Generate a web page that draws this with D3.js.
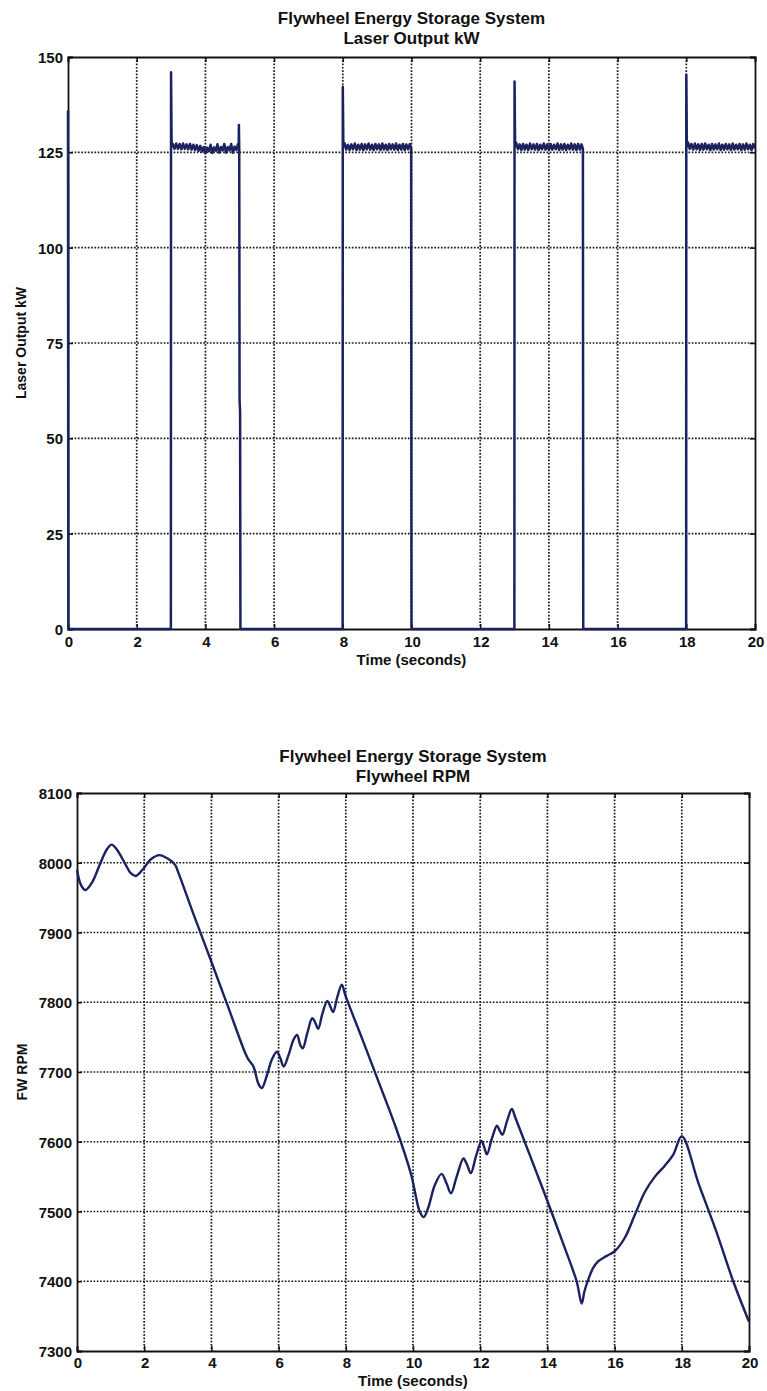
<!DOCTYPE html>
<html><head><meta charset="utf-8">
<script src="https://cdn.jsdelivr.net/npm/d3@7"></script>
<style>
body{margin:0;background:#fff}
svg{display:block;background:#fff}
text{font-family:"Liberation Sans",Arial,sans-serif;font-weight:bold;fill:#111}
</style>
</head><body>
<svg id="c" width="767" height="1391"></svg>
<script>
// ---------------- DATA ----------------
const chartTitle = "Flywheel Energy Storage System";
const laserSubtitle = "Laser Output kW";
const rpmSubtitle = "Flywheel RPM";
const xLabel = "Time (seconds)";
const laserYLabel = "Laser Output kW";
const rpmYLabel = "FW RPM";

const xTicks = [0, 2, 4, 6, 8, 10, 12, 14, 16, 18, 20];
const laserYTicks = [0, 25, 50, 75, 100, 125, 150];
const rpmYTicks = [7300, 7400, 7500, 7600, 7700, 7800, 7900, 8000, 8100];

// Laser output: initial transient and idle period
const laserStart = [[0, 136], [0.01, 0], [2.995, 0]];
// leading spike of each pulse
const pulseHeads = [
  [[3.0, 146], [3.015, 128], [3.03, 126.6]],
  [[8.0, 142.2], [8.015, 127.8], [8.03, 126.6]],
  [[13.0, 143.6], [13.015, 127.8], [13.03, 126.6]],
  [[18.0, 145.3], [18.015, 127.8], [18.03, 126.6]]
];
// plateau ripple sampled every rippleStep seconds starting at rippleStarts
const rippleStarts = [3.05, 8.05, 13.05, 18.05];
const rippleStep = 0.05;
const pulseRipples = [
  [127.2,125.9,127.3,125.9,127.2,125.8,127.3,125.9,127.1,125.8,
   127.2,125.7,127.0,125.6,126.9,125.4,126.7,125.2,126.4,124.8,
   126.2,125.3,127.0,124.8,126.3,125.4,127.1,124.9,126.4,125.5,
   127.2,124.9,126.4,125.5,127.2,124.9,126.5,125.6,127.2],
  [127.4,125.7,127.0,125.6,127.1,125.8,127.3,125.6,127.0,125.7,
   127.2,125.6,127.1,125.8,127.3,125.7,127.0,125.6,127.2,125.8,
   127.1,125.6,127.3,125.7,127.0,125.6,127.2,125.8,127.1,125.7,
   127.3,125.6,127.0,125.7,127.2,125.6,127.1,125.8,127.2],
  [127.5,125.8,127.1,125.6,127.2,125.7,127.0,125.6,127.3,125.8,
   127.1,125.7,127.2,125.6,127.0,125.8,127.3,125.7,127.1,125.6,
   127.2,125.7,127.0,125.8,127.3,125.6,127.1,125.7,127.2,125.6,
   127.0,125.8,127.3,125.7,127.1,125.6,127.2,125.7,127.1],
  [127.6,125.9,127.2,125.7,127.3,125.8,127.1,125.6,127.2,125.7,
   127.3,125.8,127.0,125.6,127.2,125.7,127.1,125.8,127.3,125.6,
   127.0,125.7,127.2,125.8,127.1,125.6,127.3,125.7,127.0,125.8,
   127.2,125.6,127.1,125.7,127.3,125.8,127.0,125.6,127.2]
];
// trailing edge of each pulse and following idle period
const pulseTails = [
  [[4.97, 126], [4.975, 132.2], [4.985, 126], [4.995, 60], [5.01, 57], [5.02, 0], [7.995, 0]],
  [[9.99, 126], [10.0, 0], [12.995, 0]],
  [[14.99, 126], [15.0, 0], [17.995, 0]],
  [[20.0, 126]]
];

// Flywheel RPM
const rpmTime = [0,0.12,0.25,0.45,0.7,0.9,1.03,1.2,1.45,1.6,1.75,1.95,2.2,2.45,2.7,2.92,3.0,3.5,4.0,4.5,5.0,5.1,5.25,5.4,5.5,5.65,5.8,5.95,6.05,6.15,6.3,6.45,6.55,6.65,6.72,6.85,7.0,7.08,7.18,7.3,7.45,7.53,7.62,7.75,7.88,8.0,8.5,9.0,9.5,9.95,10.05,10.2,10.32,10.45,10.65,10.85,11.0,11.13,11.3,11.5,11.6,11.72,11.88,12.04,12.12,12.2,12.35,12.5,12.58,12.66,12.8,12.94,13.05,13.5,14.0,14.5,14.87,15.02,15.1,15.22,15.35,15.5,15.75,16.0,16.3,16.6,16.9,17.2,17.5,17.75,18.0,18.5,19.0,19.53,20.0];
const rpmValue = [7990,7968,7961,7972,8000,8020,8026,8018,7997,7985,7981,7990,8005,8011,8006,7997,7988,7922,7858,7793,7728,7718,7708,7683,7677,7695,7718,7729,7720,7708,7725,7747,7753,7738,7734,7755,7777,7772,7762,7783,7802,7795,7786,7808,7825,7808,7746,7683,7619,7552,7530,7500,7492,7505,7538,7554,7540,7526,7550,7576,7568,7555,7580,7601,7592,7582,7605,7623,7616,7610,7630,7647,7634,7578,7515,7450,7400,7368,7385,7403,7418,7428,7436,7443,7462,7495,7528,7550,7566,7582,7608,7540,7475,7400,7342];

// ---------------- BUILD ----------------
const laserSeries = [...laserStart];
pulseHeads.forEach((head, i) => {
  head.forEach(p => laserSeries.push(p));
  pulseRipples[i].forEach((v, j) => laserSeries.push([rippleStarts[i] + j * rippleStep, v]));
  pulseTails[i].forEach(p => laserSeries.push(p));
});
const rpmSeries = rpmTime.map((t, i) => [t, rpmValue[i]]);

const svg = d3.select("#c");
const lineColor = "#1a2260";

function panel(cfg) {
  const x = d3.scaleLinear().domain([0, 20]).range([cfg.left, cfg.right]);
  const y = d3.scaleLinear().domain(cfg.yDomain).range([cfg.bottom, cfg.top]);
  const g = svg.append("g");

  // grid
  const gridStyle = sel => sel.attr("stroke", "#1a1a1a").attr("stroke-width", 1.7).attr("stroke-dasharray", "1.7,1.6");
  g.selectAll(".vg").data(xTicks.slice(1, -1)).enter().append("line")
    .attr("x1", d => x(d)).attr("x2", d => x(d))
    .attr("y1", cfg.top).attr("y2", cfg.bottom).call(gridStyle);
  g.selectAll(".hg").data(cfg.yTicks.slice(1, -1)).enter().append("line")
    .attr("y1", d => y(d)).attr("y2", d => y(d))
    .attr("x1", cfg.left).attr("x2", cfg.right).call(gridStyle);

  // axes (ticks inward) on all four sides
  const tl = 5;
  const axB = d3.axisBottom(x).tickValues(xTicks).tickSize(-tl).tickFormat("");
  const axT = d3.axisTop(x).tickValues(xTicks).tickSize(-tl).tickFormat("");
  const axL = d3.axisLeft(y).tickValues(cfg.yTicks).tickSize(-tl).tickFormat("");
  const axR = d3.axisRight(y).tickValues(cfg.yTicks).tickSize(-tl).tickFormat("");
  [[axB, `translate(0,${cfg.bottom})`], [axT, `translate(0,${cfg.top})`],
   [axL, `translate(${cfg.left},0)`], [axR, `translate(${cfg.right},0)`]].forEach(([ax, tr]) => {
    const a = g.append("g").attr("transform", tr).call(ax);
    a.selectAll("path").attr("stroke", "#111").attr("stroke-width", 1.8);
    a.selectAll("line").attr("stroke", "#111").attr("stroke-width", 1.5);
  });

  // tick labels
  g.selectAll(".xl").data(xTicks).enter().append("text")
    .attr("x", d => x(d) + 1).attr("y", cfg.xTickBase)
    .attr("text-anchor", "middle").attr("font-size", 15).text(d => d);
  g.selectAll(".yl").data(cfg.yTicks).enter().append("text")
    .attr("x", cfg.left - 5).attr("y", d => y(d) + 6)
    .attr("text-anchor", "end").attr("font-size", 15).text(d => d);

  // titles
  const cx = (cfg.left + cfg.right) / 2;
  g.append("text").attr("x", cx).attr("y", cfg.titleBase).attr("text-anchor", "middle")
    .attr("font-size", 17).text(chartTitle);
  g.append("text").attr("x", cx).attr("y", cfg.titleBase + 20).attr("text-anchor", "middle")
    .attr("font-size", 17).text(cfg.subtitle);
  g.append("text").attr("x", cx).attr("y", cfg.xLabelBase).attr("text-anchor", "middle")
    .attr("font-size", 15).text(xLabel);
  g.append("text").attr("transform", `translate(${cfg.yLabelX},${(cfg.top + cfg.bottom) / 2}) rotate(-90)`)
    .attr("text-anchor", "middle").attr("font-size", 14).text(cfg.yLabel);

  // data line
  const line = d3.line().x(d => x(d[0])).y(d => y(d[1])).curve(cfg.curve);
  g.append("path").datum(cfg.data).attr("d", line)
    .attr("fill", "none").attr("stroke", lineColor).attr("stroke-width", cfg.lw)
    .attr("stroke-linejoin", "round");
}

panel({
  left: 68, right: 755, top: 57, bottom: 629,
  yDomain: [0, 150], yTicks: laserYTicks,
  titleBase: 24, subtitle: laserSubtitle,
  xTickBase: 647, xLabelBase: 665, yLabelX: 26, yLabel: laserYLabel,
  data: laserSeries, curve: d3.curveLinear, lw: 2.5
});
panel({
  left: 77, right: 749, top: 793, bottom: 1351,
  yDomain: [7300, 8100], yTicks: rpmYTicks,
  titleBase: 762, subtitle: rpmSubtitle,
  xTickBase: 1368, xLabelBase: 1386, yLabelX: 27, yLabel: rpmYLabel,
  data: rpmSeries, curve: d3.curveCatmullRom.alpha(0.5), lw: 2.4
});
</script>
</body></html>
